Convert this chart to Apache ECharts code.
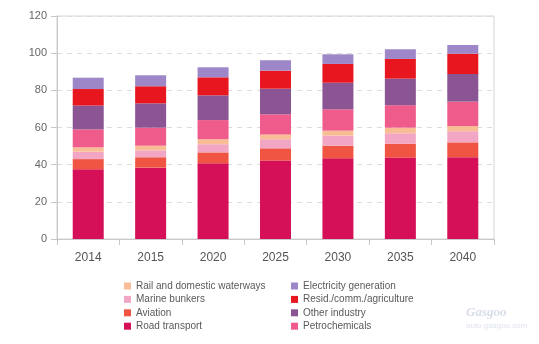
<!DOCTYPE html>
<html>
<head>
<meta charset="utf-8">
<script src="https://cdn.jsdelivr.net/npm/echarts@6/dist/echarts.min.js"></script>
<style>
  html, body { margin: 0; padding: 0; background: #fff; }
  #chart { width: 539px; height: 344px; }
</style>
</head>
<body>
<div id="chart"></div>
<script>
// Oil demand by sector (mb/d), stacked by year
const years = ['2014', '2015', '2020', '2025', '2030', '2035', '2040'];

const roadTransport   = [37.5, 38.4, 40.7, 42.2, 43.4, 43.8, 44.0];
const aviation        = [5.5, 5.6, 5.9, 6.6, 6.8, 7.5, 8.0];
const marineBunkers   = [4.0, 3.7, 4.4, 4.9, 5.4, 5.6, 6.0];
const railWaterways   = [2.3, 2.5, 2.7, 2.5, 2.7, 3.0, 2.8];
const petrochemicals  = [9.7, 9.7, 10.3, 10.9, 11.5, 12.1, 13.1];
const otherIndustry   = [12.8, 13.1, 13.3, 13.8, 14.3, 14.3, 14.9];
const residCommAgri   = [8.9, 9.2, 9.7, 9.7, 10.1, 10.6, 10.9];
const electricityGen  = [6.1, 5.9, 5.4, 5.6, 5.2, 5.2, 4.7];

const yTicks = [0, 20, 40, 60, 80, 100, 120];

const seriesDefs = [
  { name: 'Road transport',             data: roadTransport,  color: '#d50f58' },
  { name: 'Aviation',                   data: aviation,       color: '#ef5542' },
  { name: 'Marine bunkers',             data: marineBunkers,  color: '#f3a6c3' },
  { name: 'Rail and domestic waterways',data: railWaterways,  color: '#f9bd95' },
  { name: 'Petrochemicals',             data: petrochemicals, color: '#ef5c8b' },
  { name: 'Other industry',             data: otherIndustry,  color: '#8a5592' },
  { name: 'Resid./comm./agriculture',   data: residCommAgri,  color: '#e8161f' },
  { name: 'Electricity generation',     data: electricityGen, color: '#9d87c8' }
];

const chart = echarts.init(document.getElementById('chart'), null, { renderer: 'canvas' });

const legendText = { fontFamily: 'Liberation Sans, Arial, sans-serif', fontSize: 10, color: '#5a5a5a' };
const legendBase = {
  orient: 'vertical',
  icon: 'rect',
  itemWidth: 7,
  itemHeight: 7,
  itemGap: 3.4,
  padding: 0,
  textStyle: legendText,
  selectedMode: false
};

chart.setOption({
  animation: false,
  backgroundColor: '#fff',
  grid: {
    left: 57, right: 45, top: 16, bottom: 105,
    show: true, borderColor: '#d4d4d4', borderWidth: 1, backgroundColor: 'transparent'
  },
  legend: [
    Object.assign({}, legendBase, {
      left: 124, top: 281,
      data: ['Rail and domestic waterways', 'Marine bunkers', 'Aviation', 'Road transport']
    }),
    Object.assign({}, legendBase, {
      left: 291, top: 281,
      data: ['Electricity generation', 'Resid./comm./agriculture', 'Other industry', 'Petrochemicals']
    })
  ],
  xAxis: {
    type: 'category',
    data: years,
    boundaryGap: true,
    axisLine: { lineStyle: { color: '#c8c8c8' } },
    axisTick: { show: true, alignWithLabel: false, length: 6, lineStyle: { color: '#c8c8c8' } },
    axisLabel: { color: '#555', fontSize: 12, margin: 13, fontFamily: 'Liberation Sans, Arial, sans-serif' }
  },
  yAxis: {
    type: 'value',
    min: yTicks[0],
    max: yTicks[yTicks.length - 1],
    interval: yTicks[1] - yTicks[0],
    axisLine: { show: true, lineStyle: { color: '#c8c8c8' } },
    axisTick: { show: true, length: 6, lineStyle: { color: '#c8c8c8' } },
    axisLabel: { color: '#666', fontSize: 11, margin: 10, fontFamily: 'Liberation Sans, Arial, sans-serif' },
    splitLine: { show: true, lineStyle: { color: '#dcdcdc', type: [5, 5] } }
  },
  series: seriesDefs.map(s => ({
    name: s.name,
    type: 'bar',
    stack: 'demand',
    data: s.data,
    barWidth: 31,
    itemStyle: { color: s.color },
    emphasis: { disabled: true }
  })),
  graphic: [
    {
      type: 'text', left: 466, top: 306,
      style: { text: 'Gasgoo', fill: 'rgba(120,140,180,0.3)', font: 'italic bold 13px Liberation Serif, serif' }
    },
    {
      type: 'text', left: 466, top: 322,
      style: { text: 'auto.gasgoo.com', fill: 'rgba(120,140,180,0.25)', font: '8px Liberation Sans, sans-serif' }
    }
  ]
});
</script>
</body>
</html>
